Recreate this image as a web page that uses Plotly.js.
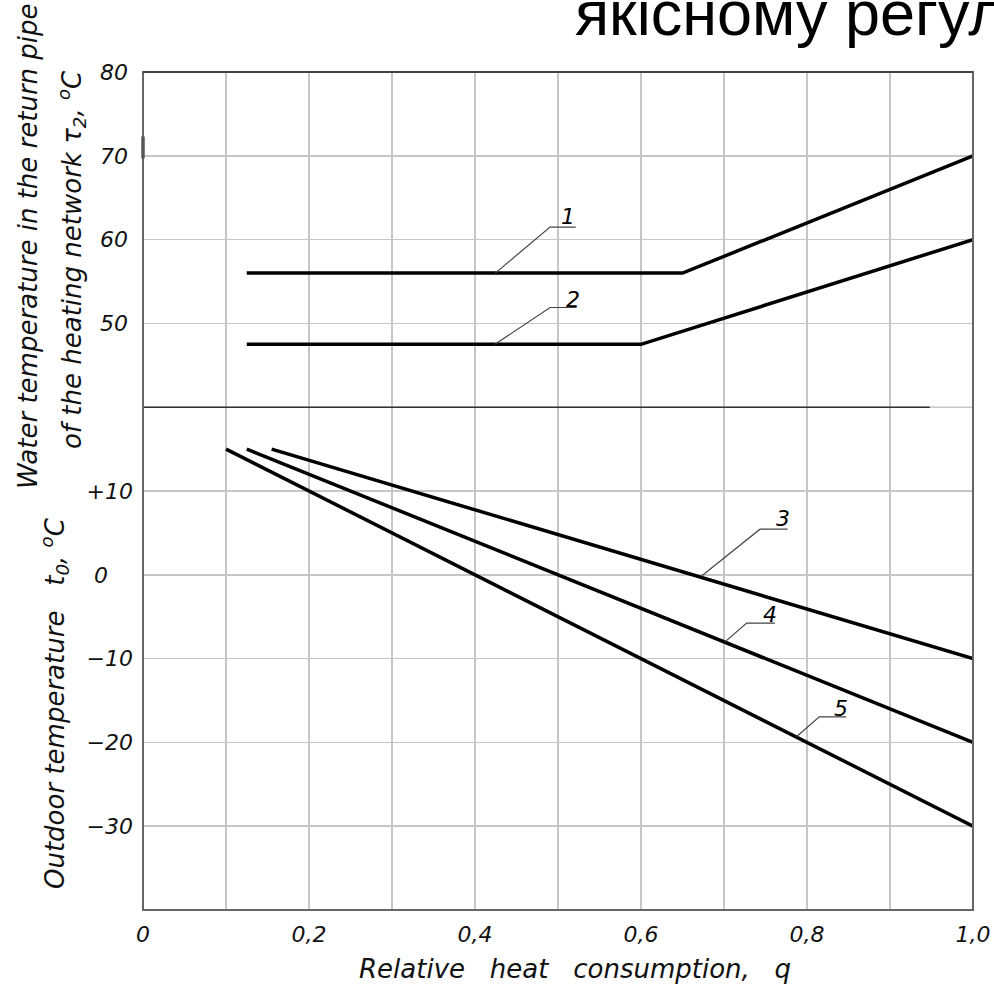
<!DOCTYPE html>
<html>
<head>
<meta charset="utf-8">
<script src="https://cdn.plot.ly/plotly-3.0.1.min.js"></script>
<style>html,body{margin:0;padding:0;background:#fff;}#chart{width:994px;height:985px;}</style>
</head>
<body>
<div id="chart"></div>
<script>
// ---- data ----
const q1 = [0.125, 0.65, 1.0];
const tau1 = [56, 56, 70];
const q2 = [0.125, 0.60, 1.0];
const tau2 = [47.5, 47.5, 60];
const q3 = [0.155, 1.0];
const t3 = [15, -10];
const q4 = [0.125, 1.0];
const t4 = [15, -20];
const q5 = [0.10, 1.0];
const t5 = [15, -30];

const xTickVals = [0, 0.2, 0.4, 0.6, 0.8, 1.0];
const xTickText = ['0', '0,2', '0,4', '0,6', '0,8', '1,0'];
const xMinorVals = [0.1, 0.3, 0.5, 0.7, 0.9];
const tauTickVals = [50, 60, 70, 80];
const tauTickText = ['50', '60', '70', '80'];
const toTickVals = [-30, -20, -10, 0, 10];
const toTickText = ['\u221230', '\u221220', '\u221210', '0\u2007\u2002', '+10'];
const curveLabels = ['1', '2', '3', '4', '5'];

const FONT = 'DejaVu Sans, Verdana, sans-serif';
const GRID = '#c6c6c6';
const lineStyle = {color: '#000', width: 3.5};

const traces = [
  {x: q1, y: tau1, xaxis: 'x', yaxis: 'y', mode: 'lines', line: lineStyle, hoverinfo: 'skip'},
  {x: q2, y: tau2, xaxis: 'x', yaxis: 'y', mode: 'lines', line: lineStyle, hoverinfo: 'skip'},
  {x: q3, y: t3, xaxis: 'x', yaxis: 'y2', mode: 'lines', line: lineStyle, hoverinfo: 'skip'},
  {x: q4, y: t4, xaxis: 'x', yaxis: 'y2', mode: 'lines', line: lineStyle, hoverinfo: 'skip'},
  {x: q5, y: t5, xaxis: 'x', yaxis: 'y2', mode: 'lines', line: lineStyle, hoverinfo: 'skip'}
];

// leader lines: [yref, start, elbow, end, label position]
const leaders = [
  ['y',  [0.4245, 56.0], [0.4904, 61.5], [0.5213, 61.5], [0.512, 62.7]],
  ['y',  [0.4241, 47.5], [0.4904, 51.9], [0.5225, 51.9], [0.518, 52.9]],
  ['y2', [0.673, -0.15], [0.7434, 5.44], [0.7767, 5.44], [0.771, 6.7]],
  ['y2', [0.7012, -8.0], [0.7273, -5.76], [0.7614, -5.76], [0.755, -4.75]],
  ['y2', [0.7876, -19.3], [0.8148, -16.95], [0.847, -16.95], [0.8406, -15.9]]
];

const shapes = [];
const annotations = [];
leaders.forEach((l, i) => {
  shapes.push({type: 'path', xref: 'x', yref: l[0],
    path: `M ${l[1][0]},${l[1][1]} L ${l[2][0]},${l[2][1]} L ${l[3][0]},${l[3][1]}`,
    line: {color: '#444', width: 1.2}});
  annotations.push({xref: 'x', yref: l[0], x: l[4][0], y: l[4][1], text: curveLabels[i],
    showarrow: false, xanchor: 'center', yanchor: 'middle',
    font: {family: FONT, size: 22, style: 'italic', color: '#000'}});
});

// separator between upper and lower graphs
shapes.push({type: 'line', xref: 'paper', yref: 'paper', x0: 0, x1: 1, y0: 0.6, y1: 0.6,
  line: {color: GRID, width: 1.5}});
shapes.push({type: 'line', xref: 'paper', yref: 'paper', x0: 0, x1: 0.948, y0: 0.6, y1: 0.6,
  line: {color: '#333', width: 1.5}});
// frame
shapes.push({type: 'rect', xref: 'paper', yref: 'paper', x0: 0, x1: 1, y0: 0, y1: 1,
  line: {color: '#666', width: 2}, layer: 'above'});
shapes.push({type: 'line', xref: 'paper', yref: 'paper', x0: 0, x1: 1, y0: 1, y1: 1,
  line: {color: '#444', width: 2}, layer: 'above'});
shapes.push({type: 'line', xref: 'paper', yref: 'y', x0: 0, x1: 0, y0: 69.7, y1: 72.3,
  line: {color: '#555', width: 3.5}, layer: 'above'});

const titleFont = {family: FONT, size: 26, style: 'italic', color: '#111'};
annotations.push(
  {xref: 'paper', yref: 'paper', x: -0.1386, y: (910 - 246) / 838, textangle: -90,
   text: 'Water temperature in the return pipe', showarrow: false,
   xanchor: 'center', yanchor: 'middle', font: titleFont},
  {xref: 'paper', yref: 'paper', x: -0.0867, y: (910 - 260) / 838, textangle: -90,
   text: 'of the heating network \u03c4<sub>2</sub>, <sup>o</sup>C', showarrow: false,
   xanchor: 'center', yanchor: 'middle', font: titleFont},
  {xref: 'paper', yref: 'paper', x: -0.1072, y: (910 - 703) / 838, textangle: -90,
   text: 'Outdoor temperature&nbsp;&nbsp; t<sub>0</sub>, <sup>o</sup>C', showarrow: false,
   xanchor: 'center', yanchor: 'middle', font: titleFont},
  {xref: 'paper', yref: 'paper', x: 0.5205, y: (910 - 969) / 838,
   text: 'Relative&nbsp;&nbsp; heat&nbsp;&nbsp; consumption,&nbsp;&nbsp; q', showarrow: false,
   xanchor: 'center', yanchor: 'middle', font: titleFont},
  {xref: 'paper', yref: 'paper', x: (573 - 143) / 830, y: (910 - 13) / 838,
   text: 'якісному регулюванні', showarrow: false,
   xanchor: 'left', yanchor: 'middle',
   font: {family: 'Liberation Sans, Arial, sans-serif', size: 63, color: '#000'}}
);

const tickFont = {family: FONT, size: 22, style: 'italic', color: '#111'};

const layout = {
  width: 994, height: 985,
  margin: {l: 143, r: 21, t: 72, b: 75, pad: 0},
  paper_bgcolor: '#fff', plot_bgcolor: '#fff',
  showlegend: false,
  xaxis: {domain: [0, 1], range: [0, 1], anchor: 'y2',
    tickmode: 'array', tickvals: xTickVals, ticktext: xTickText,
    showgrid: true, gridcolor: GRID, gridwidth: 1.5, zeroline: false, showline: false,
    ticks: '', tickfont: tickFont, ticklabelstandoff: 9,
    minor: {tickmode: 'array', tickvals: xMinorVals, showgrid: true, gridcolor: GRID, gridwidth: 1.5, ticks: ''}},
  yaxis: {domain: [0.6, 1], range: [40, 80], anchor: 'x',
    tickmode: 'array', tickvals: tauTickVals, ticktext: tauTickText,
    showgrid: true, gridcolor: GRID, gridwidth: 1.5, zeroline: false, showline: false,
    ticks: '', tickfont: tickFont, ticklabelstandoff: 14},
  yaxis2: {domain: [0, 0.6], range: [-40, 20], anchor: 'x',
    tickmode: 'array', tickvals: toTickVals, ticktext: toTickText,
    showgrid: true, gridcolor: GRID, gridwidth: 1.5, zeroline: false, showline: false,
    ticks: '', tickfont: tickFont, ticklabelstandoff: 9},
  shapes: shapes,
  annotations: annotations
};

Plotly.newPlot('chart', traces, layout, {displayModeBar: false, staticPlot: true});
</script>
</body>
</html>
